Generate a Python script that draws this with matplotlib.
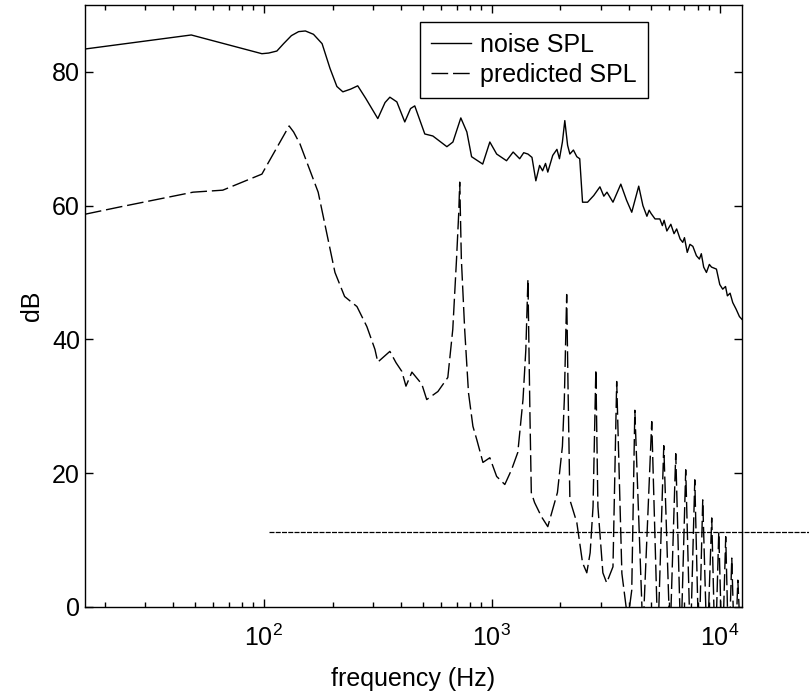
import matplotlib
matplotlib.use("Agg")
import matplotlib.pyplot as plt

plt.rcParams['font.family'] = ['Liberation Sans', 'DejaVu Sans']

# noise SPL (Hz, dB)
noise_f = [16.4, 48, 98, 105, 114, 122, 132, 142, 152, 165, 180, 195, 209, 222, 240, 258,
           280, 316, 340, 357, 383, 415, 440, 459, 508, 551, 635, 675, 731, 777, 815, 912,
           980, 1050, 1160, 1240, 1325, 1380, 1440, 1500, 1560, 1620, 1670, 1720, 1760,
           1850, 1930, 1980, 2040, 2090, 2150, 2200, 2280, 2360, 2430, 2500, 2630, 2800,
           2980, 3100, 3200, 3400, 3680, 3900, 4110, 4410, 4600, 4790, 4900, 5000, 5200,
           5460, 5600, 5700, 5860, 6100, 6300, 6470, 6700, 6880, 7000, 7200, 7400, 7620,
           7900, 8140, 8300, 8500, 8740, 9000, 9200, 9670, 10000, 10300, 10600, 10800,
           11100, 11400, 11800, 12200, 12500]
noise_db = [83.4, 85.5, 82.7, 82.8, 83.1, 84.2, 85.4, 86.0, 86.1, 85.6, 84.2, 80.5, 77.8,
            77.0, 77.4, 77.9, 76.0, 73.0, 75.4, 76.2, 75.5, 72.5, 74.5, 74.9, 70.7, 70.4,
            68.8, 69.5, 73.1, 71.0, 67.3, 66.2, 69.5, 67.7, 66.7, 68.0, 67.0, 67.9, 67.7,
            67.2, 63.7, 66.0, 65.2, 66.3, 65.0, 67.5, 68.4, 67.0, 69.5, 72.7, 69.0, 67.7,
            68.3, 67.3, 67.0, 60.5, 60.5, 61.5, 62.8, 61.4, 62.0, 60.5, 63.2, 60.8, 59.0,
            62.9, 60.0, 58.4, 59.3, 58.8, 58.0, 58.0, 57.0, 57.8, 56.2, 57.2, 55.8, 56.5,
            55.0, 54.5, 55.2, 53.0, 54.2, 53.9, 52.5, 52.0, 52.8, 50.8, 50.0, 51.2, 50.8,
            50.5, 48.2, 47.5, 47.9, 46.5, 46.9, 45.5, 44.5, 43.4, 43.0]

# predicted SPL (Hz, dB)
pred_f = [16.4, 23.4, 48.9, 66, 98, 101, 129, 135, 144, 173, 205, 226, 256, 283, 307,
          316, 357, 380, 403, 420, 446, 493, 518, 580, 641, 674, 700, 716, 723, 735,
          760, 790, 826, 859, 914, 980, 1050, 1140, 1220, 1300, 1370, 1410, 1440, 1470,
          1490, 1540, 1650, 1760, 1940, 2040, 2080, 2130, 2160, 2200, 2360, 2500, 2610,
          2700, 2780, 2860, 2920, 3070, 3190, 3400, 3530, 3720, 3950, 4110, 4240, 4600,
          5030, 5350, 5680, 6050, 6410, 6750, 7090, 7430, 7770, 8100, 8420, 8800, 9220,
          9550, 9900, 10250, 10620, 10950, 11290, 11650, 12000, 12500]
pred_db = [58.7, 59.8, 62.0, 62.3, 64.7, 65.5, 71.9, 71.0, 69.2, 62.0, 50.0, 46.4, 44.9,
           41.9, 38.5, 36.6, 38.2, 36.5, 35.2, 33.0, 35.1, 33.3, 31.0, 32.2, 34.3, 41.5,
           52.0, 59.0, 63.5, 52.0, 41.5, 32.0, 27.0, 25.0, 21.6, 22.3, 19.5, 18.3, 20.5,
           23.1, 31.0, 38.5, 49.0, 28.5, 17.1, 15.6, 13.5, 12.0, 17.1, 24.0, 31.0, 46.7,
           32.5, 16.0, 12.6, 6.6, 5.1, 8.1, 15.0, 35.5, 15.0, 5.1, 3.6, 6.0, 33.7, 5.0,
           -2.0, 2.5, 29.4, -4.0, 27.7, -5.0, 24.1, -5.0, 22.9, -6.0, 20.5, -6.0, 19.0,
           -7.0, 16.0, -7.0, 13.3, -8.0, 11.2, -8.0, 10.5, -8.0, 7.3, -9.0, 4.0, -9.0]

# threshold line
thr_f = [105, 25000]
thr_db = [11.2, 11.2]

fig = plt.figure(figsize=(8.09, 6.96), dpi=100)
ax = fig.add_axes([0.105, 0.128, 0.812, 0.865])

ax.plot(noise_f, noise_db, color='black', lw=1.0, label='noise SPL')
ax.plot(pred_f, pred_db, color='black', lw=1.0, dashes=(12, 3.5), label='predicted SPL')
ax.plot(thr_f, thr_db, color='black', lw=0.9, dashes=(4, 1), clip_on=False)

ax.set_xscale('log')
ax.set_xlim(16.4, 12500)
ax.set_ylim(0, 90)
ax.set_yticks([0, 20, 40, 60, 80])
ax.set_xticks([100, 1000, 10000])

ax.tick_params(which='both', direction='in', top=True, right=True, labelsize=18)
ax.tick_params(which='major', length=6, width=1)
ax.tick_params(which='minor', length=3.5, width=1)
ax.tick_params(axis='x', which='major', pad=13)
for s in ax.spines.values():
    s.set_linewidth(1.0)

ax.set_xlabel('frequency (Hz)', fontsize=18, labelpad=11)
ax.set_ylabel('dB', fontsize=18, labelpad=6)

leg = ax.legend(loc='upper right', bbox_to_anchor=(0.857, 0.972), fontsize=18,
                frameon=True, fancybox=False, edgecolor='black', framealpha=1,
                handlelength=1.6, handletextpad=0.35, borderpad=0.45,
                labelspacing=0.25, borderaxespad=0)
leg.get_frame().set_linewidth(1.0)

fig.savefig('out.png', dpi=100)
